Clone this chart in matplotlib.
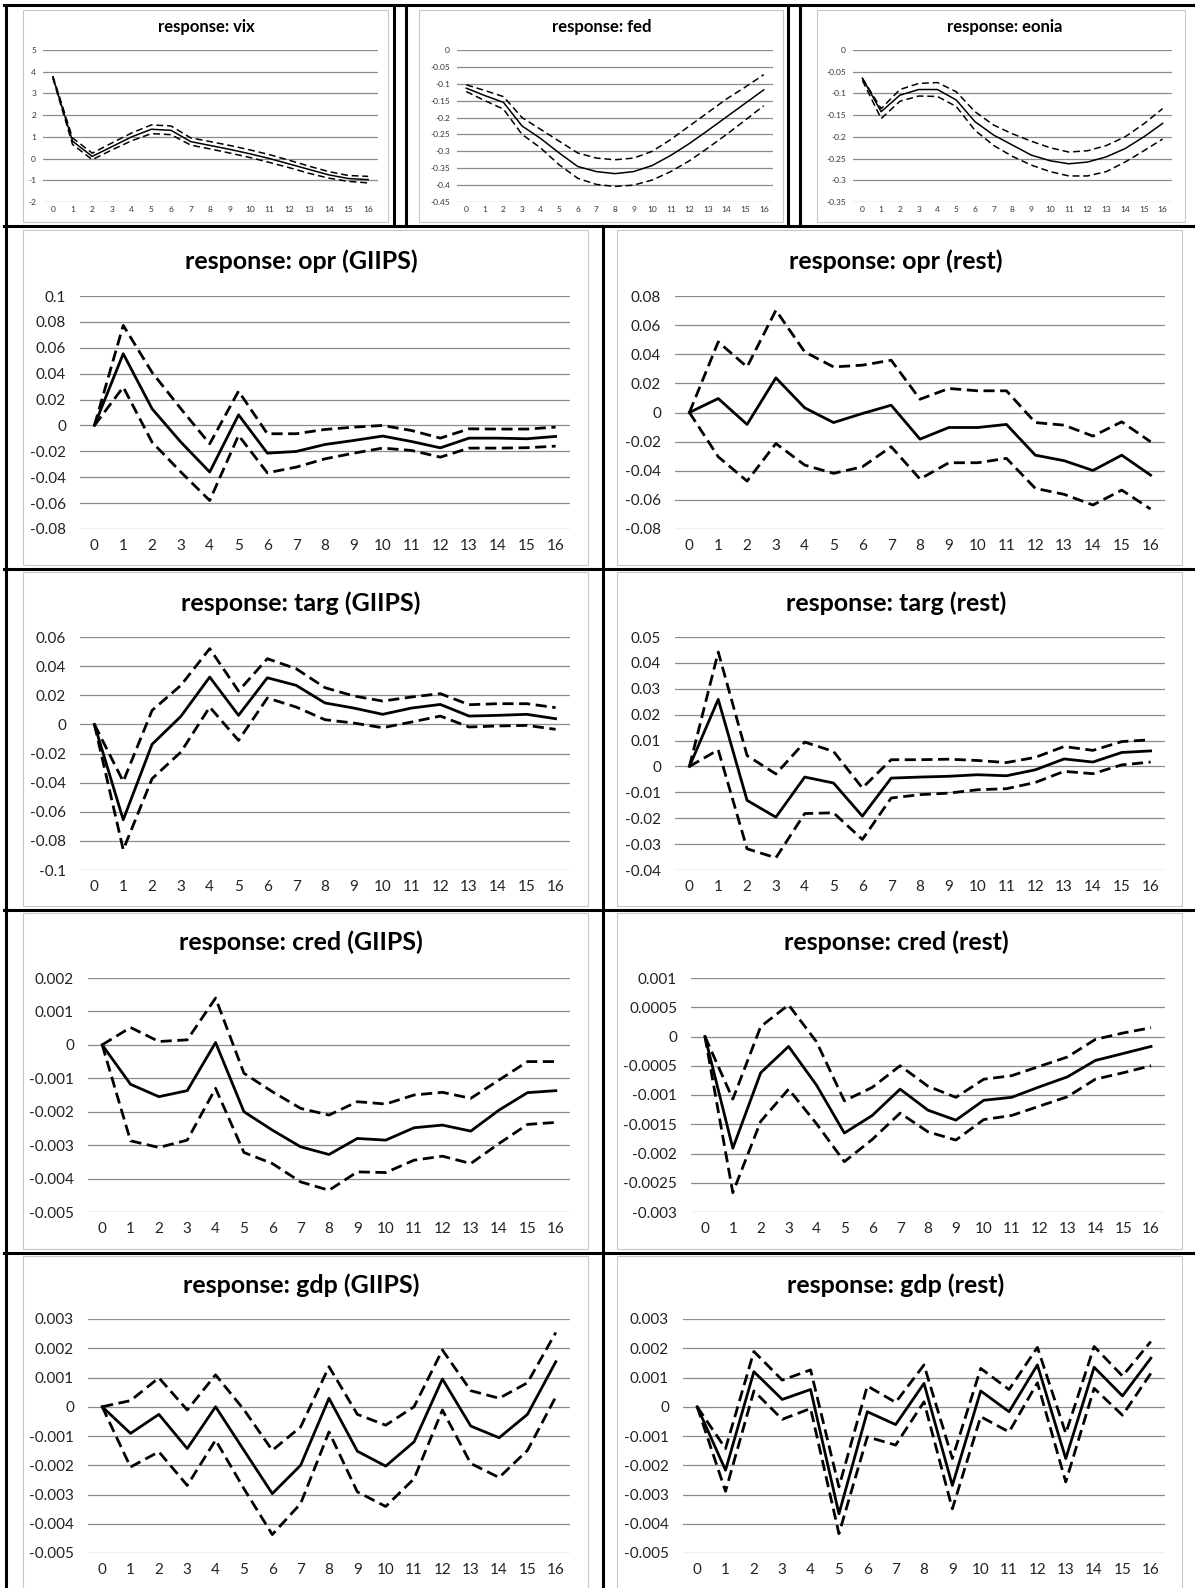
import numpy as np
import matplotlib
matplotlib.use('Agg')
import matplotlib.pyplot as plt
from matplotlib.lines import Line2D
from matplotlib.patches import Rectangle

plt.rcParams['font.family'] = ['Lato', 'DejaVu Sans']

horizon = list(range(17))

# impulse responses: centre, upper band, lower band
vix_mid = [3.75, 0.8, 0.1, 0.55, 1.0, 1.35, 1.3, 0.78, 0.6, 0.42, 0.22, 0.0, -0.25, -0.5, -0.75, -0.92, -0.97]
vix_up = [3.8, 0.95, 0.25, 0.72, 1.18, 1.55, 1.5, 0.95, 0.78, 0.6, 0.4, 0.18, -0.08, -0.35, -0.6, -0.78, -0.82]
vix_lo = [3.7, 0.65, -0.05, 0.4, 0.82, 1.15, 1.1, 0.62, 0.44, 0.25, 0.05, -0.18, -0.42, -0.68, -0.9, -1.05, -1.12]

fed_mid = [-0.113, -0.135, -0.155, -0.225, -0.262, -0.305, -0.345, -0.36, -0.366, -0.36, -0.342, -0.312, -0.277, -0.238, -0.198, -0.158, -0.118]
fed_up = [-0.103, -0.12, -0.138, -0.2, -0.235, -0.27, -0.305, -0.32, -0.325, -0.32, -0.3, -0.265, -0.225, -0.185, -0.145, -0.11, -0.073]
fed_lo = [-0.123, -0.15, -0.175, -0.25, -0.29, -0.34, -0.38, -0.398, -0.404, -0.4, -0.385, -0.36, -0.328, -0.29, -0.25, -0.208, -0.165]

eonia_mid = [-0.065, -0.142, -0.104, -0.091, -0.091, -0.115, -0.165, -0.196, -0.219, -0.242, -0.255, -0.262, -0.258, -0.246, -0.227, -0.2, -0.169]
eonia_up = [-0.065, -0.135, -0.091, -0.077, -0.075, -0.096, -0.142, -0.173, -0.193, -0.21, -0.225, -0.235, -0.232, -0.22, -0.2, -0.17, -0.135]
eonia_lo = [-0.07, -0.158, -0.118, -0.106, -0.107, -0.13, -0.185, -0.22, -0.245, -0.265, -0.28, -0.29, -0.29, -0.28, -0.258, -0.232, -0.205]

opr_g_mid = [0, 0.0554, 0.0129, -0.0129, -0.036, 0.0082, -0.0214, -0.0201, -0.0147, -0.0116, -0.0082, -0.0124, -0.0173, -0.0098, -0.0098, -0.0103, -0.0085]
opr_g_up = [0, 0.0773, 0.041, 0.0129, -0.0142, 0.0265, -0.0064, -0.0064, -0.0031, -0.0013, 0.0, -0.0039, -0.0098, -0.0026, -0.0028, -0.0028, -0.0013]
opr_g_lo = [0, 0.0296, -0.0129, -0.036, -0.058, -0.0077, -0.0366, -0.0322, -0.0258, -0.0214, -0.0175, -0.0193, -0.0245, -0.0175, -0.0175, -0.0172, -0.016]

opr_r_mid = [0, 0.0096, -0.0082, 0.0238, 0.0032, -0.0069, -0.0007, 0.005, -0.0183, -0.0103, -0.0103, -0.0082, -0.0293, -0.0331, -0.0398, -0.0293, -0.043]
opr_r_up = [0, 0.0485, 0.0313, 0.0702, 0.0416, 0.0313, 0.0325, 0.0359, 0.0091, 0.0165, 0.0149, 0.0149, -0.0069, -0.0087, -0.0162, -0.0064, -0.0201]
opr_r_lo = [0, -0.0304, -0.0471, -0.0213, -0.0361, -0.0418, -0.0373, -0.0235, -0.0457, -0.0345, -0.0345, -0.0315, -0.0521, -0.0562, -0.0635, -0.0533, -0.0663]

targ_g_mid = [0, -0.0655, -0.0137, 0.0055, 0.0325, 0.0062, 0.032, 0.0268, 0.0147, 0.0112, 0.0069, 0.0112, 0.0137, 0.0057, 0.0062, 0.0069, 0.0039]
targ_g_up = [0, -0.0392, 0.0096, 0.0268, 0.052, 0.0229, 0.0451, 0.0382, 0.0252, 0.0195, 0.016, 0.0188, 0.0211, 0.0135, 0.0142, 0.0142, 0.0115]
targ_g_lo = [0, -0.0861, -0.0373, -0.019, 0.0119, -0.011, 0.0181, 0.0119, 0.0032, 0.0009, -0.0023, 0.0016, 0.0057, -0.0018, -0.0011, -0.0007, -0.0034]

targ_r_mid = [0, 0.0259, -0.0131, -0.0196, -0.0041, -0.0064, -0.0192, -0.0045, -0.0041, -0.0038, -0.0032, -0.0036, -0.0013, 0.0029, 0.0017, 0.0054, 0.006]
targ_r_up = [0, 0.0442, 0.0042, -0.0029, 0.0094, 0.0058, -0.0083, 0.0026, 0.0026, 0.0028, 0.0023, 0.0015, 0.0035, 0.0077, 0.0062, 0.0096, 0.0103]
targ_r_lo = [0, 0.0064, -0.0318, -0.0353, -0.0182, -0.0179, -0.0282, -0.0122, -0.0109, -0.0103, -0.009, -0.0086, -0.0062, -0.0019, -0.0028, 0.0006, 0.0017]

cred_g_mid = [0, -0.00118, -0.00155, -0.00137, 0.00007, -0.002, -0.00255, -0.00305, -0.00328, -0.0028, -0.00285, -0.00248, -0.0024, -0.00258, -0.00195, -0.00143, -0.00137]
cred_g_up = [0, 0.00052, 0.0001, 0.00015, 0.0014, -0.00085, -0.0014, -0.0019, -0.0021, -0.0017, -0.00177, -0.0015, -0.00142, -0.0016, -0.00105, -0.0005, -0.0005]
cred_g_lo = [0, -0.00287, -0.00307, -0.00285, -0.0013, -0.00322, -0.00355, -0.0041, -0.00435, -0.0038, -0.00382, -0.00345, -0.00333, -0.00355, -0.00295, -0.00238, -0.00232]

cred_r_mid = [0, -0.00191, -0.00062, -0.00017, -0.00083, -0.00165, -0.00135, -0.0009, -0.00126, -0.00143, -0.00109, -0.00104, -0.00086, -0.00069, -0.00041, -0.00029, -0.00017]
cred_r_up = [0, -0.00107, 0.00017, 0.00054, -0.00009, -0.0011, -0.00087, -0.0005, -0.00085, -0.00104, -0.00073, -0.00067, -0.00051, -0.00035, -0.00005, 0.00006, 0.00015]
cred_r_lo = [0, -0.00267, -0.00145, -0.0009, -0.00149, -0.00214, -0.00176, -0.00131, -0.00163, -0.00177, -0.00142, -0.00135, -0.00119, -0.00103, -0.00073, -0.00062, -0.0005]

gdp_g_mid = [0, -0.00091, -0.00026, -0.00143, 0.0, -0.00149, -0.00297, -0.002, 0.00029, -0.00152, -0.00203, -0.0012, 0.00095, -0.00066, -0.00106, -0.00026, 0.00154]
gdp_g_up = [0, 0.00021, 0.00099, -0.00011, 0.00109, -0.0001, -0.00149, -0.00069, 0.00137, -0.00026, -0.00063, 0.0, 0.00194, 0.00055, 0.00029, 0.00082, 0.00254]
gdp_g_lo = [0, -0.00206, -0.00154, -0.00269, -0.00114, -0.0028, -0.00437, -0.00331, -0.00086, -0.00291, -0.00341, -0.00246, -0.00011, -0.00194, -0.00242, -0.00149, 0.00034]

gdp_r_mid = [0, -0.00217, 0.0012, 0.00025, 0.00059, -0.00366, -0.00017, -0.00061, 0.0008, -0.00269, 0.00054, -0.00017, 0.00143, -0.00177, 0.00135, 0.00037, 0.00166]
gdp_r_up = [0, -0.00143, 0.00189, 0.00091, 0.00126, -0.00274, 0.00071, 0.00015, 0.00143, -0.00177, 0.00131, 0.00059, 0.00203, -0.00091, 0.00206, 0.00105, 0.00223]
gdp_r_lo = [0, -0.00289, 0.00054, -0.00043, -0.00006, -0.00434, -0.00103, -0.00131, 0.00017, -0.00349, -0.00034, -0.00086, 0.00082, -0.00257, 0.00063, -0.00029, 0.00114]

W, H = 1195, 1588
fig = plt.figure(figsize=(W / 100, H / 100), dpi=100)
fig.patch.set_facecolor('white')


def fx(px):
    return px / W


def fy(py):
    return 1 - py / H


def frame(x0, y0, x1, y1):
    fig.add_artist(Rectangle((fx(x0), fy(y1)), fx(x1 - x0), (y1 - y0) / H,
                             transform=fig.transFigure, fill=False,
                             edgecolor='#c8c8c8', lw=0.8))


def rule(x0, y0, x1, y1):
    fig.add_artist(Line2D([fx(x0), fx(x1)], [fy(y0), fy(y1)],
                          transform=fig.transFigure, color='black', lw=2.2))


def panel(box, title, title_xy, mid, up, lo, ylim, step, small):
    x0, y0, x1, y1 = box
    ax = fig.add_axes([fx(x0), fy(y1), fx(x1 - x0), (y1 - y0) / H])
    ax.set_xlim(-0.5, 16.5)
    ax.set_ylim(*ylim)
    ticks = np.round(np.arange(ylim[0], ylim[1] + step / 2, step), 8)
    ax.set_yticks(ticks)
    ax.set_yticklabels(['{:g}'.format(t + 0.0) for t in ticks])
    ax.set_xticks(horizon)
    ax.set_xticklabels([str(h) for h in horizon])
    for s in ax.spines.values():
        s.set_visible(False)
    ax.grid(axis='y', color='#8c8c8c', lw=0.9)
    ax.set_axisbelow(True)
    if small:
        fs, lw, dash = 6, 1.1, (0, (4.5, 2.5))
        ax.tick_params(length=0, labelsize=fs, colors='#333333', pad=5)
        ax.tick_params(axis='x', pad=3)
        tfs = 12
    else:
        fs, lw, dash = 11, 2.0, (0, (4, 2))
        ax.tick_params(length=0, labelsize=fs, colors='#222222', pad=10)
        ax.tick_params(axis='x', pad=7)
        tfs = 18
    ax.plot(horizon, up, color='black', lw=lw, ls=dash)
    ax.plot(horizon, lo, color='black', lw=lw, ls=dash)
    ax.plot(horizon, mid, color='black', lw=lw)
    fig.text(fx(title_xy[0]), fy(title_xy[1]), title, ha='center', va='center',
             fontsize=tfs, fontweight='bold')
    return ax


# top row
frame(23, 10, 388, 222)
frame(419, 10, 783, 222)
frame(817, 10, 1185, 222)
panel((43, 50, 378, 202), 'response: vix', (206, 27), vix_mid, vix_up, vix_lo, (-2, 5), 1, True)
panel((457, 50, 773, 202), 'response: fed', (602, 27), fed_mid, fed_up, fed_lo, (-0.45, 0), 0.05, True)
panel((853, 50, 1172, 202), 'response: eonia', (1005, 27), eonia_mid, eonia_up, eonia_lo, (-0.35, 0), 0.05, True)

# lower rows
rows = [(230, 565), (572, 906), (913, 1249), (1256, 1600)]
for r in rows:
    frame(23, r[0], 588, r[1])
    frame(617, r[0], 1182, r[1])

panel((80, 296, 570, 529), 'response: opr (GIIPS)', (301, 261), opr_g_mid, opr_g_up, opr_g_lo, (-0.08, 0.1), 0.02, False)
panel((675, 296, 1165, 529), 'response: opr (rest)', (896, 261), opr_r_mid, opr_r_up, opr_r_lo, (-0.08, 0.08), 0.02, False)
panel((80, 637, 570, 870), 'response: targ (GIIPS)', (301, 603), targ_g_mid, targ_g_up, targ_g_lo, (-0.1, 0.06), 0.02, False)
panel((675, 637, 1165, 870), 'response: targ (rest)', (896, 603), targ_r_mid, targ_r_up, targ_r_lo, (-0.04, 0.05), 0.01, False)
panel((88, 978, 570, 1212), 'response: cred (GIIPS)', (301, 942), cred_g_mid, cred_g_up, cred_g_lo, (-0.005, 0.002), 0.001, False)
panel((691, 978, 1165, 1212), 'response: cred (rest)', (896, 942), cred_r_mid, cred_r_up, cred_r_lo, (-0.003, 0.001), 0.0005, False)
panel((88, 1319, 570, 1553), 'response: gdp (GIIPS)', (301, 1285), gdp_g_mid, gdp_g_up, gdp_g_lo, (-0.005, 0.003), 0.001, False)
panel((683, 1319, 1165, 1553), 'response: gdp (rest)', (896, 1285), gdp_r_mid, gdp_r_up, gdp_r_lo, (-0.005, 0.003), 0.001, False)

# table rules
for yy in [5, 226, 569, 910, 1253]:
    rule(4, yy, 1195, yy)
rule(6, 5, 6, 1588)
for xx in [394, 406, 788, 800]:
    rule(xx, 5, xx, 226)
rule(603, 226, 603, 1588)

fig.savefig('out.png', dpi=100)
